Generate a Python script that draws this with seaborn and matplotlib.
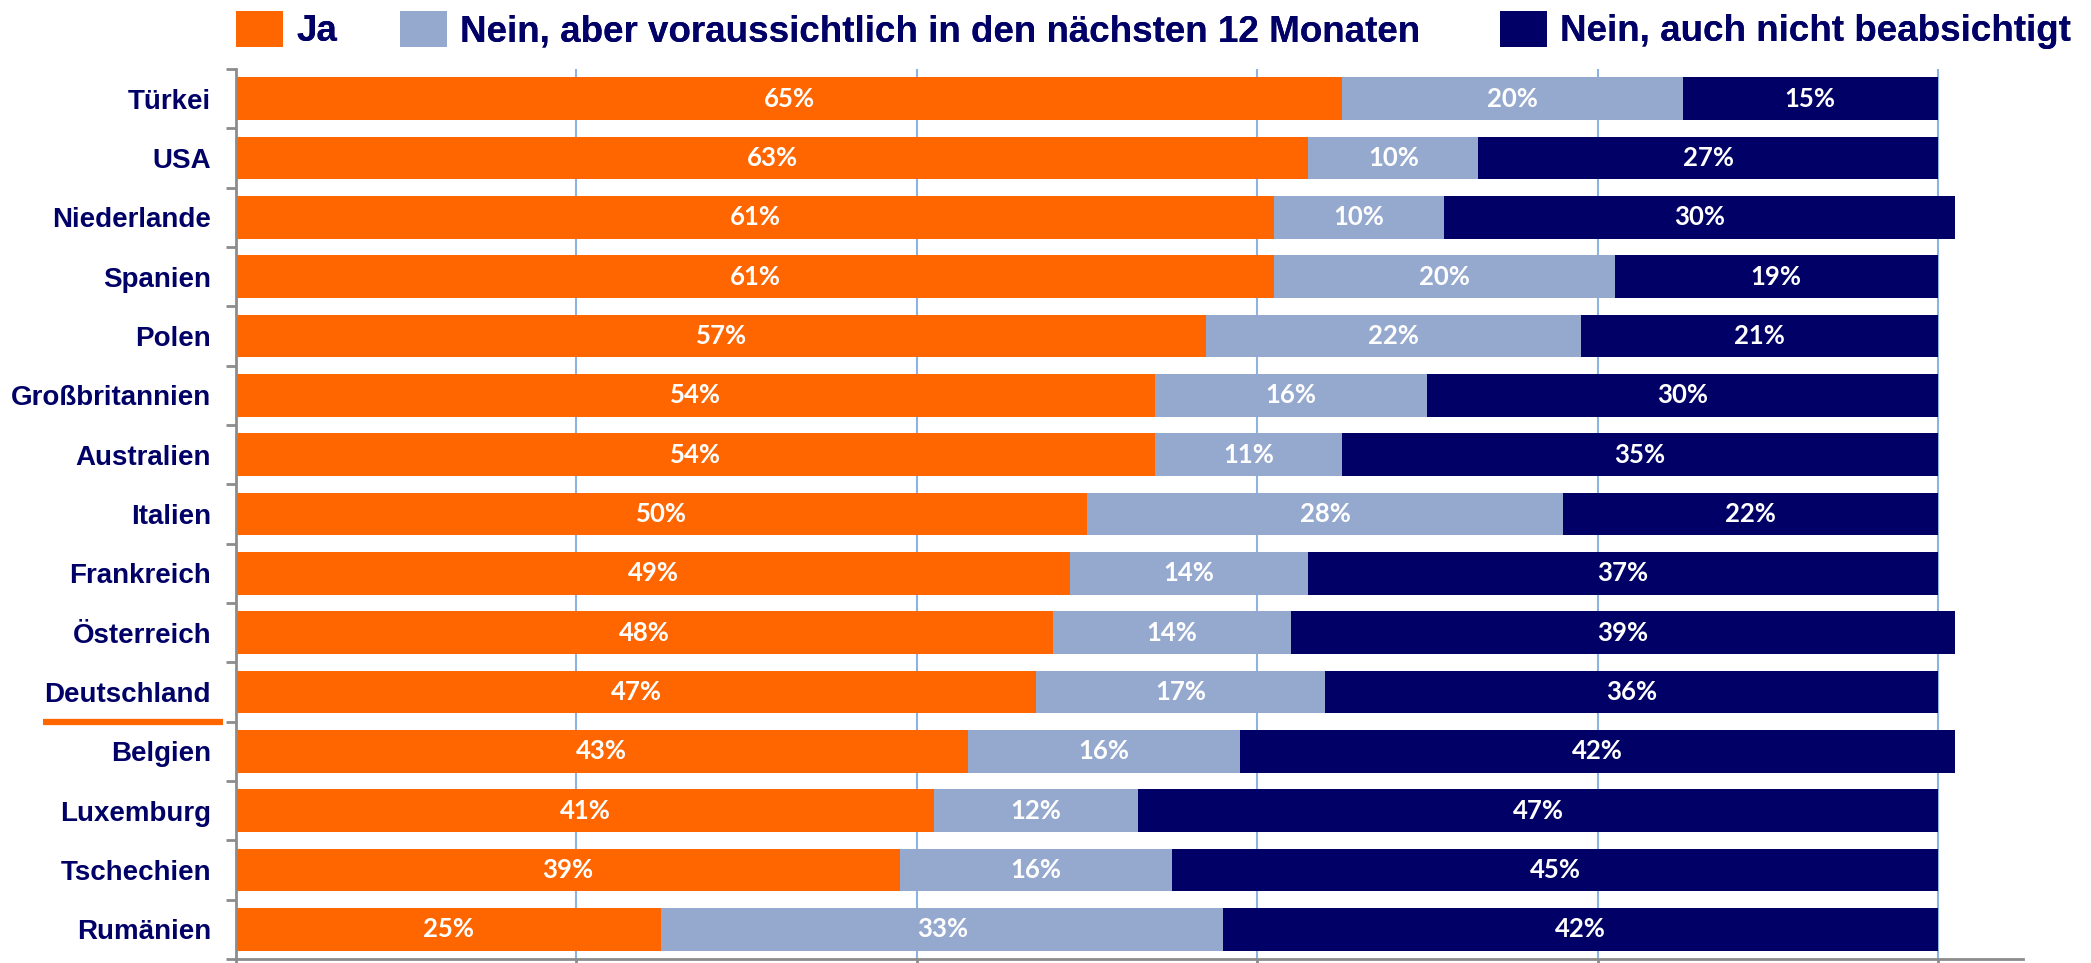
import numpy as np
import pandas as pd
import matplotlib
matplotlib.use("Agg")
import matplotlib.pyplot as plt
import matplotlib.transforms as mtransforms
from matplotlib.patches import Patch
import seaborn as sns

# data (percent)
countries = ["Türkei", "USA", "Niederlande", "Spanien", "Polen", "Großbritannien",
             "Australien", "Italien", "Frankreich", "Österreich", "Deutschland",
             "Belgien", "Luxemburg", "Tschechien", "Rumänien"]
ja = [65, 63, 61, 61, 57, 54, 54, 50, 49, 48, 47, 43, 41, 39, 25]
nein_bald = [20, 10, 10, 20, 22, 16, 11, 28, 14, 14, 17, 16, 12, 16, 33]
nein_nie = [15, 27, 30, 19, 21, 30, 35, 22, 37, 39, 36, 42, 47, 45, 42]
series_names = ["Ja", "Nein, aber voraussichtlich in den nächsten 12 Monaten",
                "Nein, auch nicht beabsichtigt"]

ORANGE = "#FF6600"
LIGHT = "#95A9CF"
NAVY = "#000066"
GRID = "#8DB3E2"
AXIS = "#8C8C8C"

df = pd.DataFrame({"Land": countries, "Ja": ja, "Bald": nein_bald, "Nie": nein_nie})
df["c1"] = df["Ja"]
df["c2"] = df["Ja"] + df["Bald"]
df["c3"] = df["c2"] + df["Nie"]

sns.set_style("white")
plt.rcParams["font.family"] = ["Liberation Sans", "DejaVu Sans"]

fig = plt.figure(figsize=(20.91, 9.63), dpi=100)
ax = fig.add_axes([236 / 2091, 1 - 959 / 963, (2023 - 236) / 2091, (959 - 69) / 963])

# stacked bars: draw cumulative totals back to front
for col, color in [("c3", NAVY), ("c2", LIGHT), ("c1", ORANGE)]:
    sns.barplot(data=df, x=col, y="Land", order=countries, color=color,
                saturation=1, width=0.72, orient="h", ax=ax, zorder=3,
                edgecolor="none", linewidth=0)

# segment labels
for i, row in df.iterrows():
    for start, val in [(0, row["Ja"]), (row["c1"], row["Bald"]), (row["c2"], row["Nie"])]:
        ax.text(start + val / 2, i, f"{val}%", ha="center", va="center",
                color="white", fontsize=18.5, fontweight="bold",
                family=["Lato", "DejaVu Sans"], zorder=5)

ax.set_xlim(0, 105)
ax.set_ylim(len(countries) - 0.5, -0.5)
ax.set_xlabel("")
ax.set_ylabel("")

# gridlines and ticks
ax.set_xticks([0, 20, 40, 60, 80, 100])
ax.set_xticklabels([])
for xv in [20, 40, 60, 80, 100]:
    ax.axvline(xv, color=GRID, lw=1.5, zorder=1)
ax.tick_params(axis="x", direction="out", length=7, width=2, color=AXIS, bottom=True)
ax.set_yticks(np.arange(len(countries)))
ax.set_yticklabels(countries, fontsize=20, fontweight="bold", color=NAVY)
ax.tick_params(axis="y", which="major", length=0, pad=18)
ax.set_yticks(np.arange(len(countries) + 1) - 0.5, minor=True)
ax.tick_params(axis="y", which="minor", direction="out", length=7, width=2,
               color=AXIS, left=True)

for side in ["top", "right"]:
    ax.spines[side].set_visible(False)
for side in ["left", "bottom"]:
    ax.spines[side].set_color(AXIS)
    ax.spines[side].set_linewidth(2)
    ax.spines[side].set_zorder(6)

# orange underline under Deutschland
idx = countries.index("Deutschland")
trans = mtransforms.blended_transform_factory(ax.transAxes, ax.transData)
ax.plot([-0.108, -0.007], [idx + 0.5, idx + 0.5], color=ORANGE, lw=4.5,
        transform=trans, clip_on=False, solid_capstyle="butt")

# legend across the top, one entry per block
legend_x = [236, 400, 1500]
for name, color, lx in zip(series_names, [ORANGE, LIGHT, NAVY], legend_x):
    leg = fig.legend([Patch(facecolor=color, edgecolor="none")], [name],
                     loc="center left", bbox_to_anchor=(lx / 2091, 1 - 30 / 963),
                     frameon=False, borderaxespad=0, borderpad=0,
                     handlelength=1.27, handleheight=1.15, handletextpad=0.36,
                     prop={"size": 26.5, "weight": "bold",
                           "family": ["Liberation Sans", "DejaVu Sans"]})
    leg.get_texts()[0].set_color(NAVY)
    fig.add_artist(leg)

fig.savefig("out.png", dpi=100)
